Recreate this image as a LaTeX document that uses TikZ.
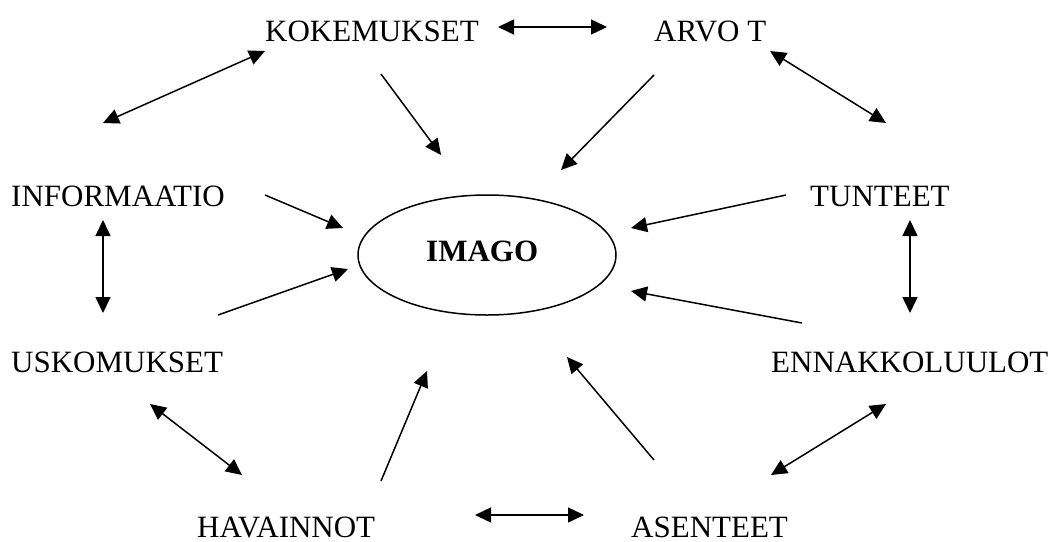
\documentclass[tikz,border=0pt]{standalone}
\usepackage{fontspec}
\setmainfont{Liberation Serif}
\usetikzlibrary{arrows.meta,shapes.geometric}
\begin{document}
\begin{tikzpicture}[x=1pt,y=-1pt,
  lbl/.style={anchor=base west,inner sep=0pt,text depth=0pt,font=\fontsize{31}{36}\selectfont},
  conn/.style={line width=1.5pt,-{Triangle[length=16pt,width=15pt]}},
  both/.style={line width=1.5pt,{Triangle[length=16pt,width=15pt]}-{Triangle[length=16pt,width=15pt]}}]
\useasboundingbox (0,0) rectangle (1064,541);
% labels
\node[lbl] (kok) at (265,41) {KOKEMUKSET};
\node[lbl] (arv) at (654,41) {ARVO T};
\node[lbl] (inf) at (11,206) {INFORMAATIO};
\node[lbl] (tun) at (810,206) {TUNTEET};
\node[lbl] (usk) at (11,372) {USKOMUKSET};
\node[lbl] (enn) at (771,372) {ENNAKKOLUULOT};
\node[lbl] (hav) at (197,537) {HAVAINNOT};
\node[lbl] (ase) at (631,537) {ASENTEET};
\node[draw,line width=1.5pt,ellipse,minimum width=258pt,minimum height=120pt,inner sep=0pt] (imago) at (487,255) {};
\node[lbl,font=\fontsize{31}{36}\selectfont\bfseries] (imt) at (426,261) {IMAGO};
% arrow end coordinates
\coordinate (a1s) at (498,27);  \coordinate (a1e) at (607,27);
\coordinate (a2s) at (265,51);  \coordinate (a2e) at (103,123);
\coordinate (a3s) at (381,74);  \coordinate (a3e) at (441,155);
\coordinate (a4s) at (654,75);  \coordinate (a4e) at (561,170);
\coordinate (a5s) at (770,51);  \coordinate (a5e) at (886,123);
\coordinate (a6s) at (265,195); \coordinate (a6e) at (343,228);
\coordinate (a7s) at (786,195); \coordinate (a7e) at (631,228);
\coordinate (a8s) at (103,220); \coordinate (a8e) at (103,313);
\coordinate (a9s) at (910,220); \coordinate (a9e) at (910,313);
\coordinate (a10s) at (218,315); \coordinate (a10e) at (348,269);
\coordinate (a11s) at (802,323); \coordinate (a11e) at (631,291);
\coordinate (a12s) at (150,404); \coordinate (a12e) at (242,475);
\coordinate (a13s) at (381,481); \coordinate (a13e) at (427,371);
\coordinate (a14s) at (654,460); \coordinate (a14e) at (567,357);
\coordinate (a15s) at (886,404); \coordinate (a15e) at (771,475);
\coordinate (a16s) at (475,515); \coordinate (a16e) at (584,515);
% connectors
\draw[both] (a1s) -- (a1e);
\draw[both] (a2s) -- (a2e);
\draw[conn] (a3s) -- (a3e);
\draw[conn] (a4s) -- (a4e);
\draw[both] (a5s) -- (a5e);
\draw[conn] (a6s) -- (a6e);
\draw[conn] (a7s) -- (a7e);
\draw[both] (a8s) -- (a8e);
\draw[both] (a9s) -- (a9e);
\draw[conn] (a10s) -- (a10e);
\draw[conn] (a11s) -- (a11e);
\draw[both] (a12s) -- (a12e);
\draw[conn] (a13s) -- (a13e);
\draw[conn] (a14s) -- (a14e);
\draw[both] (a15s) -- (a15e);
\draw[both] (a16s) -- (a16e);
\end{tikzpicture}
\end{document}
